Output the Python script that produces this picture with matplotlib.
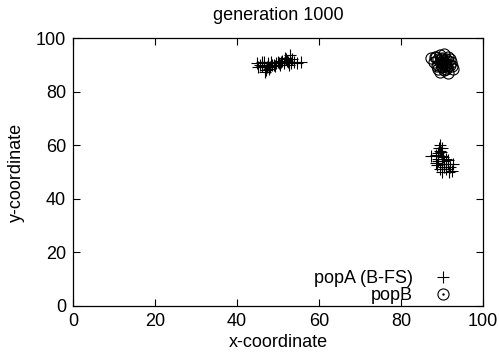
import matplotlib
matplotlib.use("Agg")
import matplotlib.pyplot as plt
from matplotlib.legend_handler import HandlerTuple

plt.rcParams['font.family'] = ['Liberation Sans', 'DejaVu Sans']

title = "generation 1000"
xlabel = "x-coordinate"
ylabel = "y-coordinate"
xticks = [0, 20, 40, 60, 80, 100]
yticks = [0, 20, 40, 60, 80, 100]

popA_x = [44.8, 45.5, 46.0, 46.5, 47.0, 47.5, 48.0, 48.5, 49.0, 46.8, 47.2, 48.2,
          49.5, 50.0, 50.5, 51.0, 51.5, 52.0, 52.5, 53.0, 53.5, 54.0, 52.8, 51.8,
          50.8, 53.2, 47.8, 46.2, 49.2, 55.5, 45.2, 47.6, 50.2, 52.2, 54.6,
          87.3, 88.5, 89.0, 89.5, 90.0, 89.5, 89.0, 90.0, 89.0, 90.0, 90.5, 91.0,
          91.5, 92.0, 89.5, 90.5, 91.0, 92.5, 90.0, 88.8, 91.5, 89.8, 90.3, 88.6,
          91.8, 92.8, 89.2]
popA_y = [90.5, 90.0, 89.5, 91.0, 88.0, 90.5, 89.0, 90.0, 90.0, 87.5, 89.0, 91.0,
          90.5, 91.0, 90.0, 91.5, 90.5, 92.0, 91.0, 93.5, 92.0, 91.0, 90.0, 92.5,
          91.0, 90.5, 88.5, 91.0, 89.5, 91.0, 89.0, 90.0, 90.5, 91.5, 90.5,
          56.0, 56.5, 57.0, 58.0, 59.0, 60.0, 55.0, 56.0, 54.0, 53.0, 52.0, 51.0,
          53.0, 52.0, 51.0, 54.0, 55.0, 50.5, 50.0, 52.5, 54.5, 57.5, 55.5, 53.5,
          50.0, 53.0, 59.0]

popB_x = [87.3, 88.0, 88.5, 89.0, 89.5, 90.0, 90.5, 91.0, 91.5, 92.0, 89.0, 89.5,
          90.0, 90.5, 91.0, 91.5, 92.0, 89.0, 90.0, 91.0, 92.5, 89.5, 90.5, 91.5,
          88.8, 90.2, 91.2, 92.8, 89.7, 90.8, 88.2, 92.3]
popB_y = [92.5, 91.0, 93.0, 92.0, 93.5, 92.5, 94.0, 92.0, 93.0, 92.0, 90.0, 91.0,
          90.5, 91.0, 90.0, 91.5, 90.0, 88.5, 89.0, 88.5, 89.5, 87.5, 88.0, 87.0,
          89.5, 91.5, 89.0, 88.5, 92.0, 89.5, 93.0, 91.0]

fig = plt.figure(figsize=(4.99, 3.54), dpi=100)
ax = fig.add_axes([0.1463, 0.1356, 0.8216, 0.757])

hA, = ax.plot(popA_x, popA_y, linestyle='none', marker='+', markersize=8.5,
              markeredgewidth=0.8, color='black')
hB, = ax.plot(popB_x, popB_y, linestyle='none', marker='o', markersize=8.0,
              markerfacecolor='none', markeredgewidth=0.8, color='black')
hBd, = ax.plot(popB_x, popB_y, linestyle='none', marker='.', markersize=1.5,
               color='black')

ax.set_xlim(0, 100)
ax.set_ylim(0, 100)
ax.set_xticks(xticks)
ax.set_yticks(yticks)
ax.tick_params(direction='in', top=True, right=True, length=5, width=0.8,
               labelsize=13, pad=5)
for s in ax.spines.values():
    s.set_linewidth(0.9)

ax.set_title(title, fontsize=13, pad=13)
ax.set_xlabel(xlabel, fontsize=13, labelpad=3)
ax.set_ylabel(ylabel, fontsize=13, labelpad=8)

ax.legend([hA, (hB, hBd)], ['popA (B-FS)', 'popB'],
          handler_map={tuple: HandlerTuple(ndivide=1, pad=0)},
          loc='lower right', markerfirst=False, frameon=False, fontsize=13,
          handlelength=1.0, handletextpad=1.2, labelspacing=0.0,
          borderaxespad=0.0, bbox_to_anchor=(0.943, -0.02))

fig.savefig("out.png", dpi=100)
